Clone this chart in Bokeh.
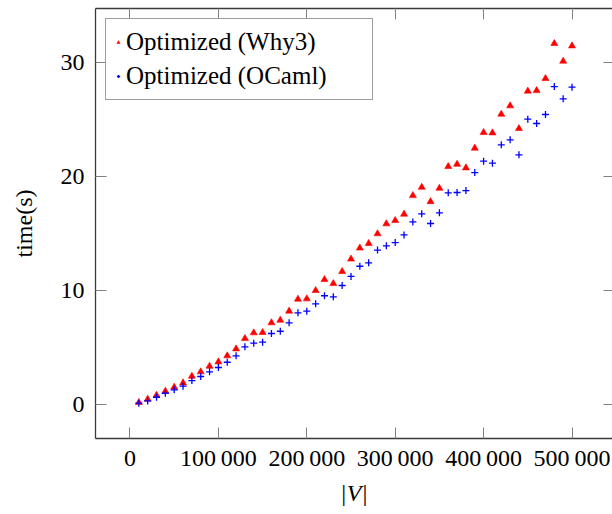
from bokeh.plotting import figure
from bokeh.models import FixedTicker, LinearAxis, Range1d, Legend, LegendItem, CustomJSTickFormatter
from bokeh.embed import file_html
from bokeh.resources import INLINE

sizes = [10000, 20000, 30000, 40000, 50000, 60000, 70000, 80000, 90000, 100000,
         110000, 120000, 130000, 140000, 150000, 160000, 170000, 180000, 190000, 200000,
         210000, 220000, 230000, 240000, 250000, 260000, 270000, 280000, 290000, 300000,
         310000, 320000, 330000, 340000, 350000, 360000, 370000, 380000, 390000, 400000,
         410000, 420000, 430000, 440000, 450000, 460000, 470000, 480000, 490000, 500000]

why3_time = [0.18, 0.47, 0.82, 1.17, 1.52, 1.90, 2.48, 2.87, 3.36, 3.74,
             4.27, 4.88, 5.79, 6.29, 6.32, 7.17, 7.40, 8.19, 9.24, 9.27,
             10.00, 10.96, 10.61, 11.67, 12.76, 13.73, 14.13, 14.98, 15.85, 16.14,
             16.70, 18.33, 19.06, 17.80, 18.97, 20.88, 21.08, 20.76, 22.49, 23.86,
             23.83, 25.47, 26.20, 24.21, 27.49, 27.54, 28.60, 31.67, 30.12, 31.46]

ocaml_time = [0.12, 0.32, 0.64, 0.99, 1.29, 1.61, 2.10, 2.46, 2.87, 3.25,
              3.71, 4.27, 5.06, 5.38, 5.47, 6.23, 6.43, 7.17, 8.04, 8.19,
              8.83, 9.54, 9.45, 10.44, 11.24, 12.13, 12.43, 13.55, 13.92, 14.21,
              14.88, 16.02, 16.73, 15.88, 16.82, 18.57, 18.60, 18.77, 20.35, 21.35,
              21.17, 22.78, 23.22, 21.90, 25.03, 24.65, 25.44, 27.89, 26.82, 27.84]

x_ticks = [0, 100000, 200000, 300000, 400000, 500000]
x_tick_labels = ["0", "100\u2009000", "200\u2009000", "300\u2009000", "400\u2009000", "500\u2009000"]
y_ticks = [0, 10, 20, 30]

FONT = "Liberation Serif"
FS = "24px"
TICK_COLOR = "#808080"
LINE_COLOR = "#3a3a3a"

p = figure(width=612, height=514, output_backend="svg", toolbar_location=None,
           x_range=Range1d(-39027, 545814), y_range=Range1d(-2.98, 34.74),
           min_border_left=95, min_border_right=0, min_border_top=8, min_border_bottom=76)
p.xgrid.visible = False
p.ygrid.visible = False
p.outline_line_color = None
p.background_fill_color = "white"
p.border_fill_color = "white"

r1 = p.scatter(sizes, why3_time, marker="triangle", size=7, fill_color="#ff0000",
               line_color="#ff0000", line_width=0.6)
r2 = p.scatter(sizes, ocaml_time, marker="cross", size=7, line_color="#0000ff", line_width=1.3)

empty_fmt = CustomJSTickFormatter(code="return '';")

def style_axis(ax, labels=True, tick_in=11):
    ax.axis_line_color = LINE_COLOR
    ax.axis_line_width = 1.3
    ax.major_tick_in = tick_in
    ax.major_tick_out = 0
    ax.major_tick_line_color = TICK_COLOR
    ax.major_tick_line_width = 1
    ax.minor_tick_line_color = None
    if labels:
        ax.major_label_text_font = FONT
        ax.major_label_text_font_size = FS
        ax.major_label_text_color = "black"
        ax.axis_label_text_font = FONT
        ax.axis_label_text_font_size = FS
        ax.axis_label_text_font_style = "normal"
        ax.axis_label_text_color = "black"
    else:
        ax.formatter = empty_fmt
        ax.major_label_text_font_size = "1px"
        ax.major_label_standoff = 0

xax = p.xaxis[0]
xax.ticker = FixedTicker(ticks=x_ticks)
xax.major_label_overrides = {t: l for t, l in zip(x_ticks, x_tick_labels)}
style_axis(xax)
xax.major_label_standoff = 6
xax.axis_label = "|V|"
xax.axis_label_text_font_style = "italic"
xax.axis_label_standoff = 6

yax = p.yaxis[0]
yax.ticker = FixedTicker(ticks=y_ticks)
style_axis(yax)
yax.major_label_standoff = 11
yax.axis_label = "time(s)"
yax.axis_label_standoff = 21

top = LinearAxis(ticker=FixedTicker(ticks=x_ticks))
style_axis(top, labels=False)
p.add_layout(top, "above")
right = LinearAxis(ticker=FixedTicker(ticks=y_ticks))
style_axis(right, labels=False, tick_in=9)
right.axis_line_color = None
p.add_layout(right, "right")

legend = Legend(items=[LegendItem(label="Optimized (Why3)", renderers=[r1]),
                       LegendItem(label="Optimized (OCaml)", renderers=[r2])],
                location="top_left")
legend.margin = 10
legend.padding = 8
legend.spacing = 4
legend.label_height = 30
legend.label_width = 238
legend.glyph_width = 8
legend.glyph_height = 30
legend.label_standoff = 4
legend.label_text_font = FONT
legend.label_text_font_size = "25px"
legend.label_text_color = "black"
legend.border_line_color = LINE_COLOR
legend.border_line_width = 1.2
legend.background_fill_alpha = 1.0
p.add_layout(legend)

open("out.html", "w").write(file_html(p, INLINE))
